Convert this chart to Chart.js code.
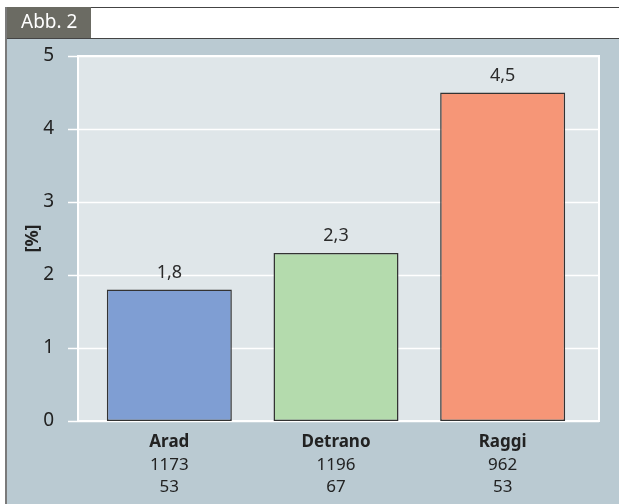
<!DOCTYPE html>
<html>
<head>
<meta charset="utf-8">
<script src="https://cdn.jsdelivr.net/npm/chart.js@4/dist/chart.umd.min.js"></script>
<style>
  html, body { margin: 0; padding: 0; background: #ffffff; }
  #wrap { width: 619px; height: 504px; }
</style>
</head>
<body>
<div id="wrap"><canvas id="abb2"></canvas></div>
<script>
// data
var studies = ['Arad', 'Detrano', 'Raggi'];
var patients = ['1173', '1196', '962'];
var events = ['53', '67', '53'];
var percentValues = [1.8, 2.3, 4.5];
var valueLabels = ['1,8', '2,3', '4,5'];
var barColors = ['#7f9ed3', '#b4dbad', '#f69677'];

var fontFamily = "'Noto Sans', 'Open Sans', sans-serif";

// panel, header and plot background with gridlines
var backgroundPlugin = {
    id: 'backgroundPlugin',
    beforeDraw: function(chart) {
        var ctx = chart.ctx;
        var area = chart.chartArea;
        var y = chart.scales.y;
        ctx.save();
        ctx.fillStyle = '#ffffff';
        ctx.fillRect(0, 0, chart.width, chart.height);
        // panel
        ctx.fillStyle = '#bacad2';
        ctx.fillRect(5, 38, chart.width - 5, chart.height - 38);
        // header
        ctx.strokeStyle = '#444444';
        ctx.lineWidth = 1;
        ctx.beginPath();
        ctx.moveTo(5, 7.5); ctx.lineTo(chart.width, 7.5);
        ctx.moveTo(5, 38.5); ctx.lineTo(chart.width, 38.5);
        ctx.stroke();
        ctx.fillStyle = '#6b6b63';
        ctx.fillRect(5, 7, 86, 31);
        ctx.fillStyle = '#ffffff';
        ctx.font = '19px ' + fontFamily;
        ctx.textAlign = 'left';
        ctx.textBaseline = 'middle';
        ctx.fillText('Abb. 2', 21, 23);
        // left border
        ctx.fillStyle = '#7a7a7a';
        ctx.fillRect(5, 7, 2, chart.height - 7);
        // plot area
        var left = area.left - 8;
        var right = area.right + 13;
        ctx.fillStyle = '#ffffff';
        ctx.fillRect(left - 1, area.top - 1, right - left + 2, area.bottom - area.top + 2);
        ctx.fillStyle = '#dfe6e9';
        ctx.fillRect(left + 1, area.top + 1, right - left - 2, area.bottom - area.top - 2);
        ctx.strokeStyle = '#ffffff';
        ctx.lineWidth = 1.5;
        y.ticks.forEach(function(t) {
            var py = Math.round(y.getPixelForValue(t.value)) + 0.5;
            ctx.beginPath();
            ctx.moveTo(left - 10, py);
            ctx.lineTo(right, py);
            ctx.stroke();
        });
        ctx.restore();
    }
};

// value labels above bars and multi-line category labels below
var labelPlugin = {
    id: 'labelPlugin',
    afterDatasetsDraw: function(chart) {
        var ctx = chart.ctx;
        var meta = chart.getDatasetMeta(0);
        var x = chart.scales.x;
        var area = chart.chartArea;
        ctx.save();
        ctx.textAlign = 'center';
        ctx.textBaseline = 'middle';
        meta.data.forEach(function(bar, i) {
            ctx.fillStyle = '#2b2b2b';
            ctx.font = '18px ' + fontFamily;
            ctx.fillText(valueLabels[i], bar.x, bar.y - 17);
            var cx = x.getPixelForValue(i);
            ctx.fillStyle = '#222222';
            ctx.font = 'bold 17px ' + fontFamily;
            ctx.fillText(studies[i], cx, area.bottom + 21);
            ctx.font = '17px ' + fontFamily;
            ctx.fillText(patients[i], cx, area.bottom + 44);
            ctx.fillText(events[i], cx, area.bottom + 66);
        });
        ctx.restore();
    }
};

var canvas = document.getElementById('abb2');
var data = {
    labels: studies,
    datasets: [{
        data: percentValues,
        backgroundColor: barColors,
        borderColor: '#333333',
        borderWidth: 1.5,
        borderSkipped: false,
        barPercentage: 0.75,
        categoryPercentage: 1
    }]
};
var config = {
    type: 'bar',
    data: data,
    options: {
        responsive: true,
        maintainAspectRatio: false,
        animation: false,
        layout: {
            padding: { left: 0, right: 33, top: 56, bottom: 0 }
        },
        plugins: {
            legend: { display: false },
            tooltip: { enabled: false }
        },
        scales: {
            x: {
                grid: { display: false },
                border: { display: false },
                ticks: { display: false },
                afterFit: function(scale) { scale.height = 83; }
            },
            y: {
                min: 0,
                max: 5,
                grid: { display: false },
                border: { display: false },
                ticks: {
                    stepSize: 1,
                    padding: 24,
                    color: '#222222',
                    font: { family: fontFamily, size: 19 }
                },
                title: {
                    display: true,
                    text: '[%]',
                    color: '#222222',
                    padding: { top: 22, bottom: 0 },
                    font: { family: fontFamily, size: 18, weight: 'bold' }
                },
                afterFit: function(scale) { scale.width = 86; }
            }
        }
    },
    plugins: [backgroundPlugin, labelPlugin]
};
var chart = new Chart(canvas, config);
</script>
</body>
</html>
